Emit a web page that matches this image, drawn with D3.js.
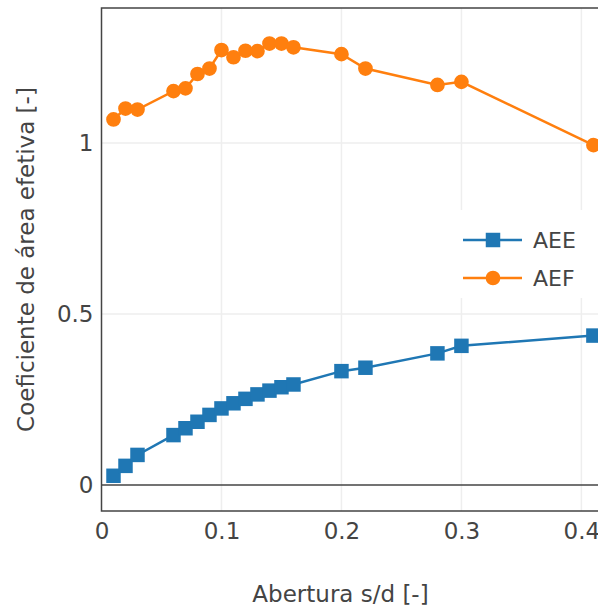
<!DOCTYPE html>
<html>
<head>
<meta charset="utf-8">
<script src="https://cdn.jsdelivr.net/npm/d3@7"></script>
<style>
  body { margin: 0; background: #fff; }
  svg { font-family: 'DejaVu Sans', Verdana, sans-serif; }
</style>
</head>
<body>
<svg id="chart" width="598" height="610"></svg>
<script>
var aberturas = [0.01, 0.02, 0.03, 0.06, 0.07, 0.08, 0.09, 0.1, 0.11, 0.12, 0.13, 0.14, 0.15, 0.16, 0.2, 0.22, 0.28, 0.3, 0.41];
var aee = [0.027, 0.056, 0.088, 0.146, 0.166, 0.185, 0.205, 0.224, 0.239, 0.252, 0.265, 0.276, 0.286, 0.294, 0.333, 0.343, 0.385, 0.407, 0.437];
var aef = [1.069, 1.101, 1.098, 1.152, 1.160, 1.202, 1.218, 1.272, 1.251, 1.270, 1.269, 1.291, 1.291, 1.280, 1.260, 1.218, 1.170, 1.179, 0.994];
var xTicks = [0, 0.1, 0.2, 0.3, 0.4];
var yTicks = [0, 0.5, 1];
var seriesNames = ['AEE', 'AEF'];

(function draw() {

  var svg = d3.select('#chart'),
      margin = { top: 8, right: -14, bottom: 99, left: 101.5 },
      width = +svg.attr('width') - margin.left - margin.right,
      height = +svg.attr('height') - margin.top - margin.bottom,
      g = svg.append('g').attr('transform', 'translate(' + margin.left + ',' + margin.top + ')'),
      font = "'DejaVu Sans', Verdana, sans-serif";

  var x = d3.scaleLinear().domain([0, 0.4255]).range([0, width]);
  var y = d3.scaleLinear().domain([-0.076, 1.395]).range([height, 0]);

  var series = [
    { name: seriesNames[0], values: aee, color: '#1f77b4', symbol: d3.symbolSquare },
    { name: seriesNames[1], values: aef, color: '#ff7f0e', symbol: d3.symbolCircle }
  ];

  // grid
  g.append('g')
    .selectAll('line')
    .data(xTicks.filter(function (d) { return d > 0; }))
    .enter().append('line')
      .attr('x1', x).attr('x2', x)
      .attr('y1', 0).attr('y2', height)
      .attr('stroke', '#eee').attr('stroke-width', 1.5);

  g.append('g')
    .selectAll('line')
    .data(yTicks.filter(function (d) { return d > 0; }))
    .enter().append('line')
      .attr('y1', y).attr('y2', y)
      .attr('x1', 0).attr('x2', width)
      .attr('stroke', '#eee').attr('stroke-width', 1.5);

  // zero line
  g.append('line')
    .attr('x1', 0).attr('x2', width)
    .attr('y1', y(0)).attr('y2', y(0))
    .attr('stroke', '#444').attr('stroke-width', 1.5);

  // frame
  g.append('path')
    .attr('d', 'M' + width + ',0H0V' + height + 'H' + width)
    .attr('fill', 'none')
    .attr('stroke', '#444')
    .attr('stroke-width', 1.5);

  // axes
  var xAxis = g.append('g')
      .attr('transform', 'translate(0,' + height + ')')
      .call(d3.axisBottom(x).tickValues(xTicks).tickSize(0).tickPadding(12).tickFormat(d3.format('')));
  xAxis.select('.domain').remove();
  xAxis.selectAll('text').attr('fill', '#444').attr('font-size', 23).attr('font-family', font);

  var yAxis = g.append('g')
      .call(d3.axisLeft(y).tickValues(yTicks).tickSize(0).tickPadding(8).tickFormat(d3.format('')));
  yAxis.select('.domain').remove();
  yAxis.selectAll('text').attr('fill', '#444').attr('font-size', 23).attr('font-family', font);

  // series
  var line = d3.line()
      .x(function (d) { return x(d[0]); })
      .y(function (d) { return y(d[1]); });

  var sg = g.append('g')
    .selectAll('g')
    .data(series)
    .enter().append('g');

  sg.append('path')
    .attr('d', function (s) { return line(aberturas.map(function (a, i) { return [a, s.values[i]]; })); })
    .attr('fill', 'none')
    .attr('stroke', function (s) { return s.color; })
    .attr('stroke-width', 2.5);

  sg.selectAll('path.pt')
    .data(function (s) { return aberturas.map(function (a, i) { return { x: a, y: s.values[i], s: s }; }); })
    .enter().append('path')
      .attr('class', 'pt')
      .attr('transform', function (d) { return 'translate(' + x(d.x) + ',' + y(d.y) + ')'; })
      .attr('d', function (d) { return d3.symbol().type(d.s.symbol).size(d.s.symbol === d3.symbolSquare ? 210 : 170)(); })
      .attr('fill', function (d) { return d.s.color; });

  // legend
  var lg = svg.append('g').attr('transform', 'translate(452,210)');
  lg.append('rect')
    .attr('width', 160).attr('height', 88)
    .attr('fill', '#fff');

  var item = lg.selectAll('g')
    .data(series)
    .enter().append('g')
      .attr('transform', function (d, i) { return 'translate(0,' + (30 + i * 38) + ')'; });

  item.append('line')
    .attr('x1', 11).attr('x2', 70)
    .attr('stroke', function (d) { return d.color; })
    .attr('stroke-width', 2.5);

  item.append('path')
    .attr('transform', 'translate(41,0)')
    .attr('d', function (d) { return d3.symbol().type(d.symbol).size(d.symbol === d3.symbolSquare ? 210 : 170)(); })
    .attr('fill', function (d) { return d.color; });

  item.append('text')
    .attr('x', 81)
    .attr('dy', '0.36em')
    .attr('font-size', 22)
    .attr('fill', '#444')
    .text(function (d) { return d.name; });

  // titles
  svg.append('text')
    .attr('x', 340.5).attr('y', 602)
    .attr('text-anchor', 'middle')
    .attr('font-size', 23)
    .attr('fill', '#444')
    .text('Abertura s/d [-]');

  svg.append('text')
    .attr('transform', 'translate(34,259.5) rotate(-90)')
    .attr('text-anchor', 'middle')
    .attr('font-size', 23)
    .attr('fill', '#444')
    .text('Coeficiente de área efetiva [-]');
})();
</script>
</body>
</html>
